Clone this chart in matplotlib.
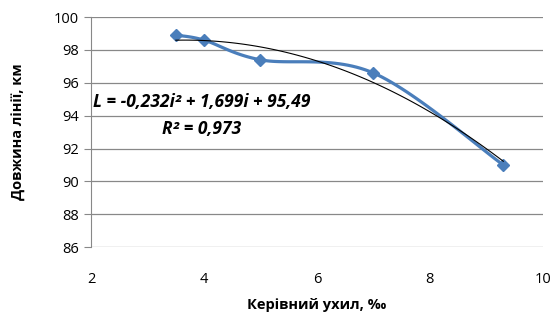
import numpy as np
import matplotlib.pyplot as plt

plt.rcParams['font.family'] = ['Open Sans', 'DejaVu Sans']

# data
slope = [3.5, 4, 5, 7, 9.3]
length = [98.9, 98.6, 97.4, 96.6, 91.0]
trend_coef = [-0.232, 1.699, 95.49]  # from the displayed equation
eq_text = 'L = -0,232i² + 1,699i + 95,49'
r2_text = 'R² = 0,973'

blue = '#4A7EBB'


def smooth(xs, ys, n=30):
    # Excel-like smoothed line: cubic Bezier through the points
    p = np.column_stack([xs, ys]).astype(float)
    p = np.vstack([p[0], p, p[-1]])
    out = []
    for i in range(1, len(p) - 2):
        p0, p1, p2, p3 = p[i - 1], p[i], p[i + 1], p[i + 2]
        c1 = p1 + (p2 - p0) / 6
        c2 = p2 - (p3 - p1) / 6
        t = np.linspace(0, 1, n)[:, None]
        seg = (1 - t) ** 3 * p1 + 3 * (1 - t) ** 2 * t * c1 + 3 * (1 - t) * t ** 2 * c2 + t ** 3 * p2
        out.append(seg)
    seg = np.vstack(out)
    return seg[:, 0], seg[:, 1]


fig = plt.figure(figsize=(5.59, 3.23), dpi=100)
ax = fig.add_axes([0.163, 0.235, 0.808, 0.712])

sx, sy = smooth(slope, length)
ax.plot(sx, sy, color=blue, lw=2.3, zorder=3)
ax.plot(slope, length, ls='none', marker='D', ms=6.5, color=blue, zorder=4)

ti = np.linspace(min(slope), max(slope), 100)
ax.plot(ti, np.polyval(trend_coef, ti), color='black', lw=0.8, zorder=5)

ax.text(3.96, 94.85, eq_text, fontsize=12.5, fontweight='bold', style='italic',
        ha='center', va='center', zorder=6)
ax.text(3.96, 93.2, r2_text, fontsize=12.5, fontweight='bold', style='italic',
        ha='center', va='center', zorder=6)

ax.set_xlim(2, 10)
ax.set_ylim(86, 100)
ax.set_xticks([2, 4, 6, 8, 10])
ax.set_yticks(range(86, 101, 2))
ax.grid(axis='y', color='#888888', lw=0.9)
ax.set_axisbelow(True)
for s in ['top', 'right', 'bottom']:
    ax.spines[s].set_visible(False)
ax.spines['left'].set_color('#888888')
ax.tick_params(axis='y', length=5, color='#888888', labelsize=10.5, pad=4)
ax.tick_params(axis='x', length=0, labelsize=10.5, pad=18)

ax.set_xlabel('Керівний ухил, ‰', fontsize=10.5, fontweight='bold', labelpad=8)
ax.set_ylabel('Довжина лінії, км', fontsize=10.5, fontweight='bold', labelpad=20)

fig.savefig('out.png', dpi=100)
